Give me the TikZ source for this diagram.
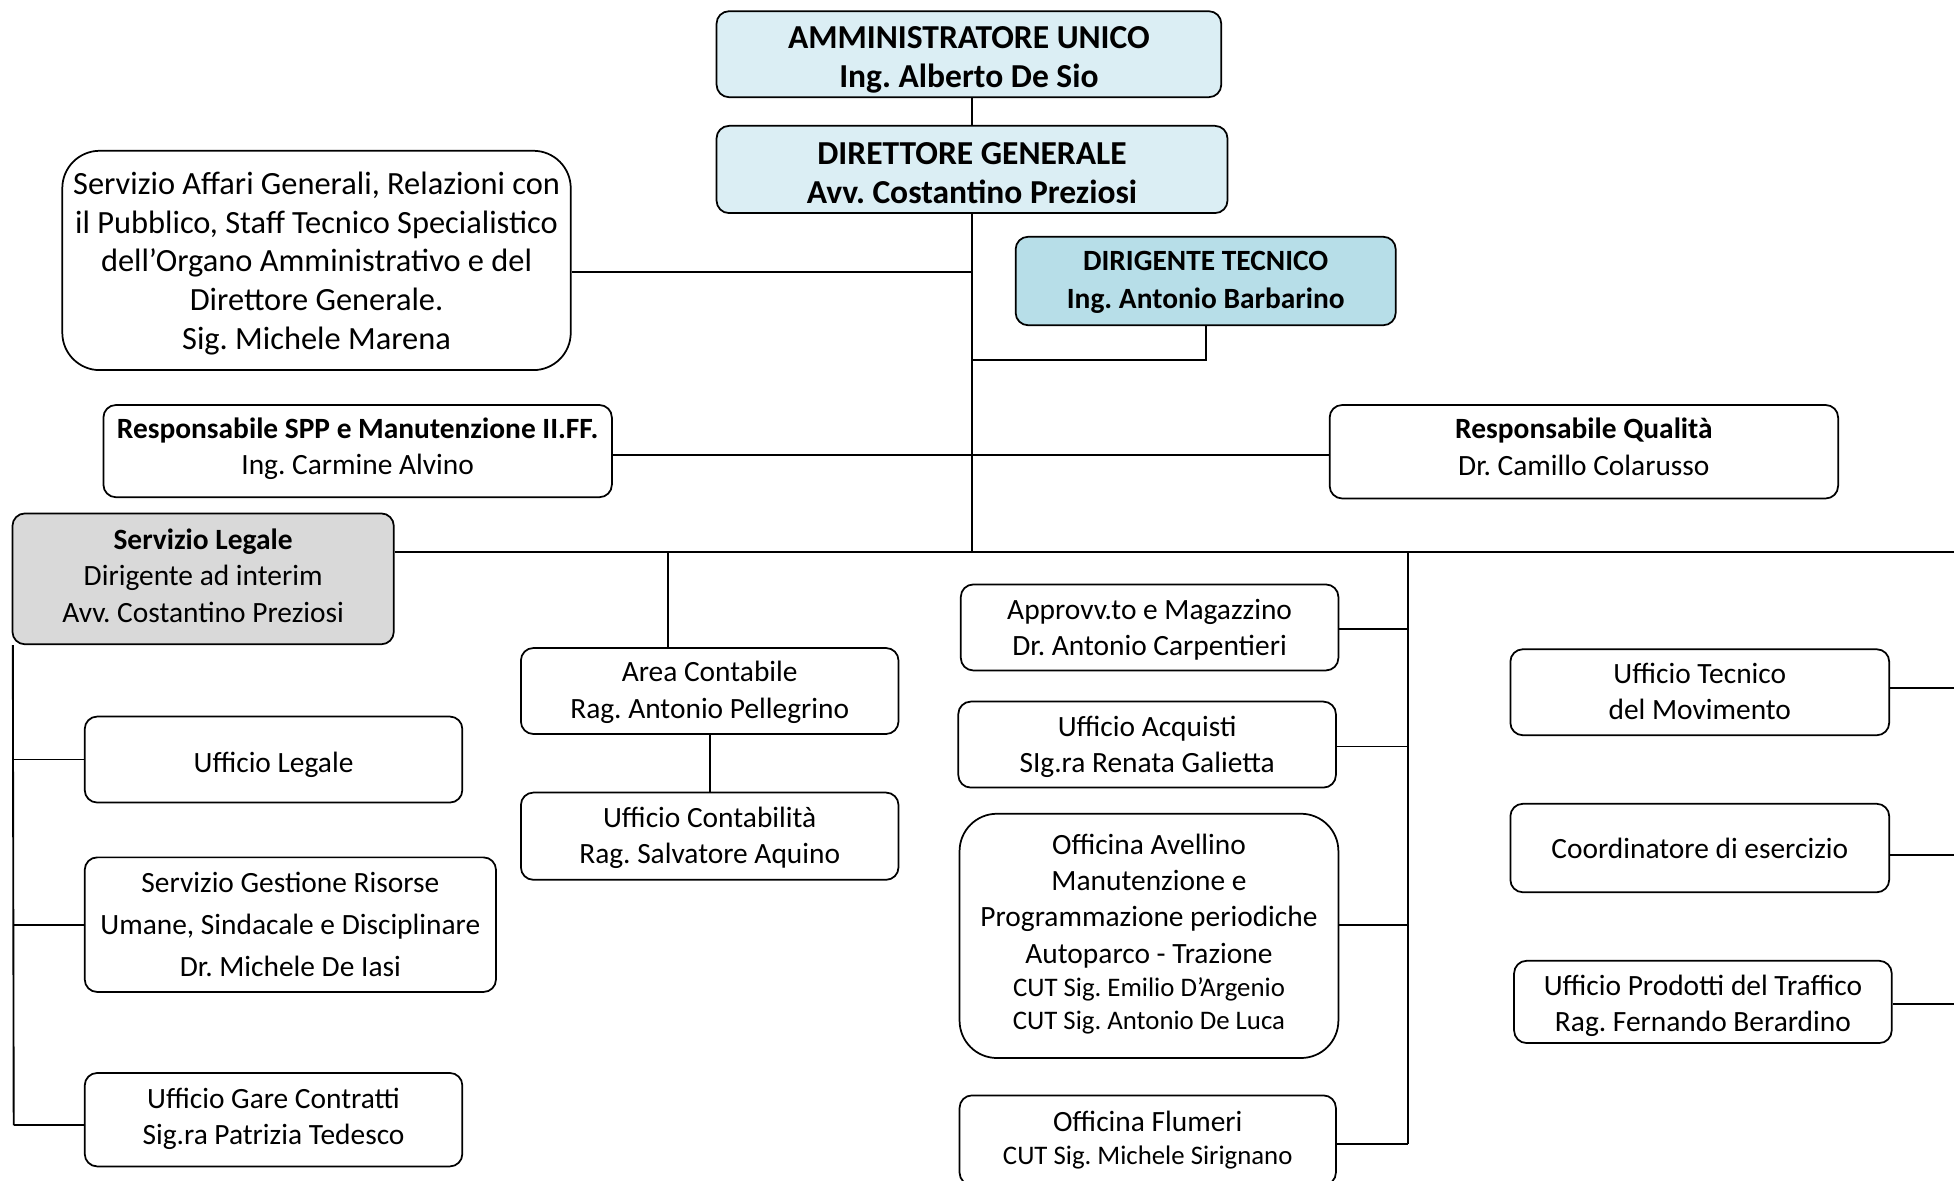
\documentclass[tikz,border=0pt]{standalone}
\usepackage{fontspec}
\setmainfont{Carlito}
\frenchspacing
\definecolor{topblue}{HTML}{DBEEF4}
\definecolor{techblue}{HTML}{B7DEE8}
\definecolor{legalgray}{HTML}{D9D9D9}
\tikzset{
  box/.style={draw, line width=1.4pt, rounded corners=10pt, fill=white, inner sep=0pt},
  bigbox/.style={box, rounded corners=30pt},
  txt/.style={align=center, inner sep=0pt, font=\fontsize{23.6}{29}\selectfont},
  titletxt/.style={txt, font=\fontsize{26.9}{31}\selectfont\bfseries},
  conn/.style={line width=1.5pt},
}
\newcommand{\smallcut}{\fontsize{21.5}{26}\selectfont}
\begin{document}
\begin{tikzpicture}[x=1pt, y=-1pt]
\useasboundingbox (0,0) rectangle (1568,947);
\clip (0,0) rectangle (1568,947);

% ---------- boxes ----------
\node[box, fill=topblue, minimum width=405, minimum height=69] (AU) at (777.5,43.5) {};
\node[box, fill=topblue, minimum width=410, minimum height=70] (DG) at (780,136) {};
\node[bigbox, minimum width=408, minimum height=176] (AG) at (254,209) {};
\node[box, fill=techblue, minimum width=305, minimum height=71] (DT) at (967.5,225.5) {};
\node[box, minimum width=408, minimum height=74] (SPP) at (287,362) {};
\node[box, minimum width=408, minimum height=75] (RQ) at (1271,362.5) {};
\node[box, fill=legalgray, minimum width=306, minimum height=105] (SL) at (163,464.5) {};
\node[box, minimum width=303, minimum height=69] (UL) at (219.5,609.5) {};
\node[box, minimum width=330, minimum height=108] (SG) at (233,742) {};
\node[box, minimum width=303, minimum height=75] (UG) at (219.5,898.5) {};
\node[box, minimum width=303, minimum height=69] (AC) at (569.5,554.5) {};
\node[box, minimum width=303, minimum height=70] (UC) at (569.5,671) {};
\node[box, minimum width=303, minimum height=69] (AM) at (922.5,503.5) {};
\node[box, minimum width=303, minimum height=69] (UA) at (920.5,597.5) {};
\node[bigbox, minimum width=304, minimum height=196] (OA) at (922,751) {};
\node[box, minimum width=302, minimum height=72] (OF) at (921,915) {};
\node[box, minimum width=304, minimum height=69] (UT) at (1364,555.5) {};
\node[box, minimum width=304, minimum height=71] (CE) at (1364,680.5) {};
\node[box, minimum width=303, minimum height=66] (UP) at (1366.5,804) {};

% ---------- texts ----------
\node[titletxt] (AUt) at ([yshift=-4.5pt]AU.center) {AMMINISTRATORE UNICO\\Ing. Alberto De Sio};
\node[titletxt] (DGt) at ([yshift=-3pt]DG.center) {DIRETTORE GENERALE\\Avv. Costantino Preziosi};
\node[txt, font=\fontsize{26}{31}\selectfont] (AGt) at ([yshift=-2.3pt]AG.center) {Servizio Affari Generali, Relazioni con\\il Pubblico, Staff Tecnico Specialistico\\dell’Organo Amministrativo e del\\Direttore Generale.\\Sig. Michele Marena};
\node[txt, font=\fontsize{23.6}{30}\selectfont\bfseries] (DTt) at ([yshift=-1pt]DT.center) {DIRIGENTE TECNICO\\Ing. Antonio Barbarino};
\node[txt] (SPPt) at ([yshift=2pt]SPP.center) {\textbf{Responsabile SPP e Manutenzione II.FF.}\\Ing. Carmine Alvino};
\node[txt] (RQt) at ([yshift=4pt]RQ.center) {\textbf{Responsabile Qualità}\\Dr. Camillo Colarusso};
\node[txt] (SLt) at ([yshift=2.5pt]SL.center) {\textbf{Servizio Legale}\\Dirigente ad interim\\Avv. Costantino Preziosi};
\node[txt] (ULt) at ([yshift=-4pt]UL.center) {Ufficio Legale};
\node[txt, font=\fontsize{23.6}{33.5}\selectfont] (SGt) at (SG.center) {Servizio Gestione Risorse\\Umane, Sindacale e Disciplinare\\Dr. Michele De Iasi};
\node[txt] (UGt) at ([yshift=1pt]UG.center) {Ufficio Gare Contratti\\Sig.ra Patrizia Tedesco};
\node[txt] (ACt) at ([yshift=-1pt]AC.center) {Area Contabile\\Rag. Antonio Pellegrino};
\node[txt] (UCt) at ([yshift=-1pt]UC.center) {Ufficio Contabilità\\Rag. Salvatore Aquino};
\node[txt] (AMt) at ([yshift=-1.5pt]AM.center) {Approvv.to e Magazzino\\Dr. Antonio Carpentieri};
\node[txt] (UAt) at ([yshift=-1.5pt]UA.center) {Ufficio Acquisti\\SIg.ra Renata Galietta};
\node[txt] (OAt) at ([yshift=1.5pt]OA.center) {Officina Avellino\\Manutenzione e\\Programmazione periodiche\\Autoparco - Trazione\\[-2pt]{\smallcut CUT Sig. Emilio D’Argenio}\\[-3pt]{\smallcut CUT Sig. Antonio De Luca}};
\node[txt] (OFt) at (OF.center) {Officina Flumeri\\[-2pt]{\smallcut CUT Sig. Michele Sirignano}};
\node[txt] (UTt) at ([yshift=1pt]UT.center) {Ufficio Tecnico\\del Movimento};
\node[txt] (CEt) at (CE.center) {Coordinatore di esercizio};
\node[txt] (UPt) at ([yshift=-3pt]UP.center) {Ufficio Prodotti del Traffico\\Rag. Fernando Berardino};

% ---------- junction coordinates ----------
\coordinate (hl) at (780,443);
\coordinate (hlend) at (1568,443);
\coordinate (dtj) at (780,289);
\coordinate (lvend) at (11,903);
\coordinate (rv) at (1130,443);
\coordinate (rvend) at (1130,918);
\coordinate (redge) at (1568,0);

% ---------- connectors ----------
\draw[conn] (DG.north) -- (DG.north |- AU.south);
\draw[conn] (DG.south) -- (hl);
\draw[conn] ([yshift=-9pt]AG.east) -- ([yshift=-9pt]AG.east -| DG.south);
\draw[conn] (DT.south) |- (dtj);
\draw[conn] ([yshift=-3pt]SPP.east) -- ([yshift=-2.5pt]RQ.west);
\draw[conn] ([yshift=21.5pt]SL.east) -- (hlend);
\draw[conn] ([xshift=1pt]SL.south west) -- (lvend);
\draw[conn] (UL.west) -- (UL.west -| lvend);
\draw[conn] (SG.west) -- (SG.west -| lvend);
\draw[conn] ([yshift=-4.5pt]UG.west) -- (lvend);
\draw[conn] ([xshift=-33.5pt]AC.north) -- ([xshift=-33.5pt]AC.north |- hl);
\draw[conn] (AC.south) -- (UC.north);
\draw[conn] (rv) -- (rvend);
\draw[conn] ([yshift=-1.5pt]AM.east) -- ([yshift=-1.5pt]AM.east -| rv);
\draw[conn] ([yshift=-1.5pt]UA.east) -- ([yshift=-1.5pt]UA.east -| rv);
\draw[conn] ([yshift=9pt]OA.east) -- ([yshift=9pt]OA.east -| rv);
\draw[conn] (OF.east |- rvend) -- (rvend);
\draw[conn] ([yshift=3.5pt]UT.east) -- ([yshift=3.5pt]UT.east -| redge);
\draw[conn] ([yshift=-5.5pt]CE.east) -- ([yshift=-5.5pt]CE.east -| redge);
\draw[conn] ([yshift=-2pt]UP.east) -- ([yshift=-2pt]UP.east -| redge);
\end{tikzpicture}
\end{document}
